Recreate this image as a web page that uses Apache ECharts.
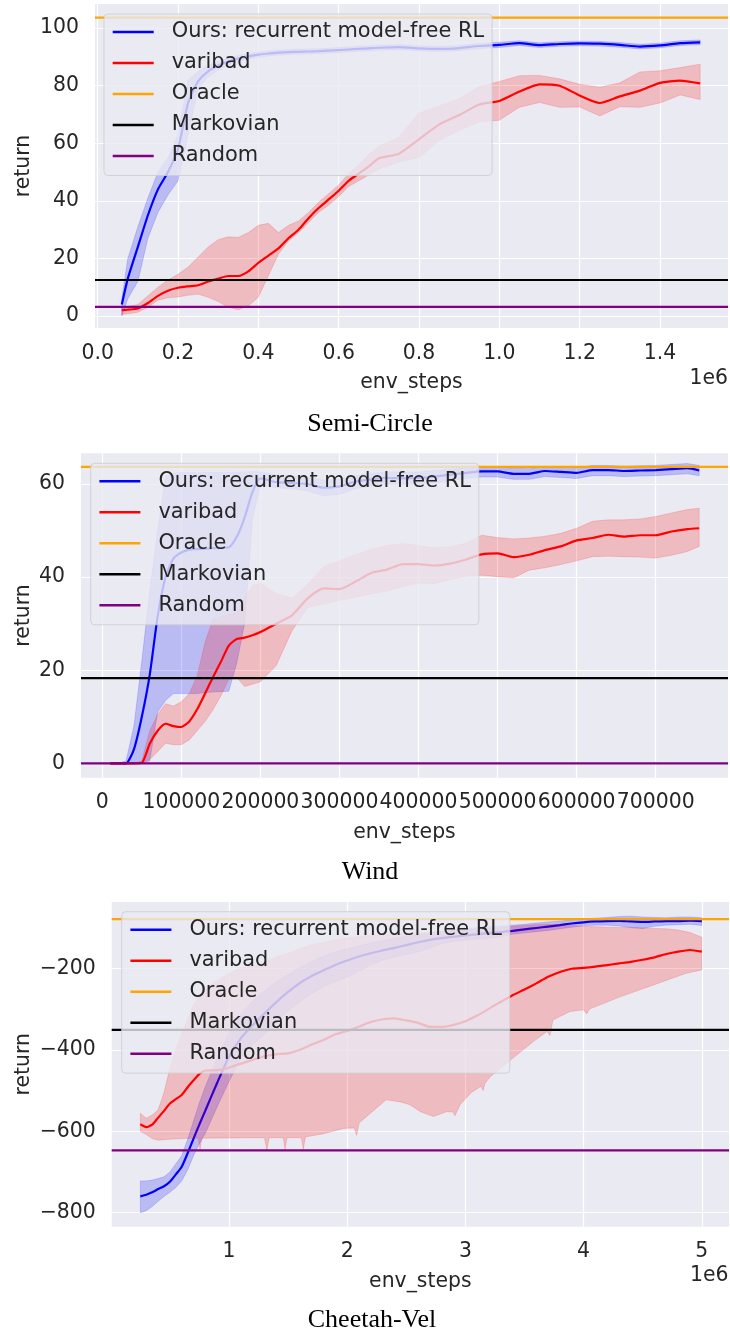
<!DOCTYPE html>
<html>
<head>
<meta charset="utf-8">
<script src="https://cdn.jsdelivr.net/npm/echarts@6/dist/echarts.min.js"></script>
<style>
  html, body { margin: 0; padding: 0; background: #ffffff; }
  #chart { width: 730px; height: 1335px; }
</style>
</head>
<body>
<div id="chart"></div>
<script>
// ---------- shared labels ----------
const seriesNames = ['Ours: recurrent model-free RL', 'varibad', 'Oracle', 'Markovian', 'Random'];
const panelTitles = ['Semi-Circle', 'Wind', 'Cheetah-Vel'];

// ---------- Semi-Circle ----------
const semiSteps = [60000, 75000, 100000, 125000, 150000, 175000, 200000, 225000, 250000, 275000,
  300000, 325000, 350000, 375000, 400000, 425000, 450000, 475000, 500000, 525000,
  550000, 575000, 600000, 625000, 650000, 675000, 700000, 750000, 800000, 850000,
  900000, 950000, 1000000, 1050000, 1100000, 1150000, 1200000, 1250000, 1300000, 1350000,
  1400000, 1450000, 1500000];
const semiOursMean = [4, 13, 24, 35, 44, 50, 58, 74, 81.5, 85,
  87, 88.4, 89.5, 90.2, 90.8, 91.2, 91.5, 91.7, 91.8, 91.9,
  92, 92.2, 92.4, 92.6, 92.8, 93, 93.2, 93.4, 93, 92.8,
  93.1, 93.8, 94.2, 94.8, 94.1, 94.5, 94.7, 94.6, 94.2, 93.6,
  94, 94.8, 95.1];
const semiOursHi = [6, 20, 31, 41, 50, 55, 63, 82, 85, 87,
  88.5, 89.6, 90.5, 91.1, 91.7, 92.1, 92.4, 92.6, 92.7, 92.8,
  92.9, 93.1, 93.3, 93.5, 93.7, 93.9, 94.1, 94.3, 93.9, 93.7,
  94, 94.7, 95.1, 95.6, 94.9, 95.3, 95.5, 95.4, 95, 94.4,
  94.8, 95.6, 95.9];
const semiOursLo = [0, 6, 12, 27, 36, 42, 47, 63, 79, 83,
  85.5, 87.2, 88.5, 89.3, 89.9, 90.3, 90.6, 90.8, 90.9, 91,
  91.1, 91.3, 91.5, 91.7, 91.9, 92.1, 92.3, 92.5, 92.1, 91.9,
  92.2, 92.9, 93.3, 94, 93.3, 93.7, 93.9, 93.8, 93.4, 92.8,
  93.2, 94, 94.3];
const semiVaribadMean = [2, 2.2, 2.6, 4.5, 7, 8.8, 9.8, 10.3, 10.7, 12,
  13, 13.9, 13.9, 15.5, 18.5, 21, 23.5, 27, 30, 34,
  37.5, 40.5, 43.5, 47, 49.5, 52, 54.8, 56.4, 61.4, 66.5,
  69.8, 73.5, 74.7, 78, 80.5, 80, 76.6, 74, 76.3, 78.3,
  81, 81.8, 80.8];
const semiVaribadHi = [3, 3.3, 4, 7, 10, 12.5, 14.5, 17, 20.5, 24,
  26.5, 27.5, 27.3, 29, 31.5, 32.2, 29, 31.5, 33, 36,
  39.5, 42.5, 45.5, 49.5, 52.5, 56, 59, 62, 70.5, 73,
  75.5, 79.7, 81.5, 83.5, 83.6, 82.4, 80.5, 79.5, 81, 84.8,
  85.2, 86.3, 87.5];
const semiVaribadLo = [0.5, 0.8, 1.3, 3, 5.5, 6.3, 6.6, 7.2, 7.6, 6.5,
  5, 3, 2.2, 3.5, 6.5, 14, 21.5, 26, 29, 32.5,
  36, 38.5, 41.5, 45, 47, 49, 51, 53.5, 55, 61,
  64.5, 67.5, 68, 72.5, 74.2, 72.5, 72.6, 69.5, 72.7, 72.5,
  74, 76.8, 75.2];
const semiBaselines = [103.7, 12.5, 3.2];   // Oracle, Markovian, Random
const semiXTicks = [0, 200000, 400000, 600000, 800000, 1000000, 1200000, 1400000];
const semiYTicks = [0, 20, 40, 60, 80, 100];

// ---------- Wind ----------
const windSteps = [10000, 20000, 30000, 40000, 50000, 60000, 70000, 80000, 90000, 100000,
  110000, 120000, 130000, 140000, 150000, 160000, 170000, 180000, 190000, 200000,
  220000, 240000, 260000, 280000, 300000, 320000, 340000, 360000, 380000, 400000,
  420000, 440000, 460000, 480000, 500000, 520000, 540000, 560000, 580000, 600000,
  620000, 640000, 660000, 680000, 700000, 720000, 740000, 755000];
const windOursMean = [0, 0, 0, 3, 10, 19, 31.5, 40, 44, 45.3,
  45.9, 46, 46.1, 46.2, 46.3, 46.4, 48.6, 52.8, 58.3, 61.2,
  60.4, 60.2, 60, 59.2, 59.5, 60.5, 61, 61.3, 61.2, 61.3,
  61.6, 62, 62.4, 62.7, 62.7, 62.2, 62.2, 62.8, 62.6, 62.4,
  63, 63, 62.8, 62.9, 63, 63.2, 63.4, 62.9];
const windOursHi = [0, 0, 0.5, 8, 22, 37, 50, 61.5, 62.3, 62.5,
  62.5, 62.5, 62.5, 62.5, 62.5, 62.5, 62.5, 62.6, 62.7, 62.6,
  62, 61.8, 61.5, 60.8, 61, 61.8, 62.3, 62.6, 62.5, 62.6,
  62.9, 63.2, 63.5, 63.7, 63.7, 63.4, 63.3, 63.8, 63.6, 63.5,
  64, 64, 63.8, 63.9, 64, 64.2, 64.4, 64];
const windOursLo = [0, 0, 0, 0, 0, 0.5, 11, 13.5, 15, 15,
  15, 15, 15.2, 15.3, 15.4, 15.5, 21.5, 30, 52.5, 59.8,
  59.2, 59, 58.5, 57.5, 57.8, 59, 59.6, 60, 59.9, 60,
  60.2, 60.7, 61.2, 61.5, 61.5, 61, 61, 61.6, 61.4, 61.2,
  61.8, 61.8, 61.6, 61.7, 61.8, 62, 62.2, 61.8];
const windVaribadMean = [0, 0, 0, 0, 0.1, 4.2, 7, 8.5, 8, 7.8,
  9, 11.6, 15, 18.5, 21.8, 25.3, 26.7, 27, 27.5, 28.2,
  30, 31.8, 35.5, 37.6, 37.4, 39, 40.9, 41.6, 42.8, 42.8,
  42.5, 42.9, 43.8, 44.9, 45.1, 44.3, 44.8, 45.8, 46.6, 47.9,
  48.4, 49.1, 48.7, 49, 49, 49.8, 50.3, 50.5];
const windVaribadHi = [0, 0, 0, 0, 0.5, 7, 10.5, 12.8, 12.3, 13.2,
  15, 18.8, 26, 31, 31.5, 31.9, 32.2, 35.5, 38.2, 38.7,
  36.5, 35.5, 38.5, 42.3, 43.5, 44.8, 46, 46.8, 47.2, 46.8,
  46.3, 46.5, 47.3, 49, 48.5, 48.2, 48.4, 48.8, 49.4, 50.5,
  52, 52.3, 52.3, 52.5, 53, 53.8, 54.5, 54.8];
const windVaribadLo = [0, 0, 0, 0, 0, 0.8, 2.5, 4.3, 4, 4,
  5, 7, 9, 11.5, 14.5, 18, 18.5, 16.5, 17, 17.5,
  21, 28.5, 33.5, 34.2, 35, 35.7, 36.4, 37, 38, 38.7,
  38.6, 39.5, 40.2, 40.4, 40.1, 39.8, 41.5, 42, 42.7, 43.5,
  44.4, 44.5, 44.4, 44.3, 44.1, 44.7, 45.5, 46.6];
const windBaselines = [63.7, 18.3, 0];
const windXTicks = [0, 100000, 200000, 300000, 400000, 500000, 600000, 700000];
const windYTicks = [0, 20, 40, 60];

// ---------- Cheetah-Vel ----------
const cheetahSteps = [250000, 300000, 350000, 400000, 450000, 500000, 550000, 600000, 650000, 700000,
  750000, 800000, 900000, 1000000, 1100000, 1200000, 1300000, 1400000, 1500000, 1600000,
  1700000, 1800000, 1900000, 2000000, 2100000, 2200000, 2300000, 2400000, 2500000, 2600000,
  2700000, 2800000, 2900000, 3000000, 3100000, 3200000, 3300000, 3400000, 3500000, 3600000,
  3700000, 3800000, 3900000, 4000000, 4100000, 4200000, 4300000, 4400000, 4500000, 4600000,
  4700000, 4800000, 4900000, 5000000];
const cheetahOursMean = [-760, -756, -750, -742, -735, -724, -706, -687, -654, -618,
  -583, -549, -481, -417, -372, -340, -311, -283, -258, -236,
  -219, -205, -192, -181, -171, -163, -156, -150, -143, -136,
  -130, -126, -122.5, -119.5, -116.5, -113.5, -111, -108, -104.5, -101,
  -97.5, -94, -90, -87, -85, -84, -83.5, -85, -86, -85,
  -84, -84, -83, -84];
const cheetahOursHi = [-722, -722, -720, -716, -712, -700, -680, -660, -620, -575,
  -530, -490, -420, -360, -313, -280, -255, -233, -215, -198,
  -183, -170, -160, -152, -145, -138, -132, -126, -121, -118,
  -113, -109, -106, -103, -100, -98, -96, -94, -92, -89,
  -86, -84, -81, -79, -77, -75, -73, -72, -74, -75,
  -76, -74, -74, -76];
const cheetahOursLo = [-800, -795, -785, -772, -760, -750, -738, -722, -695, -660,
  -630, -605, -540, -478, -420, -388, -362, -332, -305, -282,
  -262, -245, -233, -222, -208, -192, -180, -172, -166, -160,
  -150, -140, -134, -131, -128, -126, -122, -116, -113, -110,
  -107, -103, -99, -95, -94, -94, -96, -100, -102, -97,
  -94, -93, -92, -95];
const cheetahVaribadMean = [-583, -590, -584, -567, -550, -532, -521, -511, -492, -475,
  -459, -451, -450, -444, -434, -425, -416, -411, -409, -400,
  -387, -376, -362, -354, -343, -332, -325, -323, -328, -334,
  -344, -344, -339, -330, -316, -299, -282, -266, -252, -237,
  -221, -209, -201, -199, -196, -192, -188, -184, -179, -173,
  -165, -159, -155, -159];
const cheetahVaribadHi = [-556, -568, -560, -548, -505, -445, -400, -360, -325, -290,
  -265, -250, -230, -213, -199, -194, -185, -172, -163, -152,
  -142, -136, -130, -125, -122, -119, -117, -115, -114, -113,
  -112, -110, -108, -106, -104, -102, -100, -97, -95, -93,
  -92, -93, -95, -97, -98, -99, -100, -100, -101, -102,
  -103, -106, -112, -124];
// the lower edge of the varibad band has its own sample points (it has narrow dips)
const cheetahVaribadLoSteps = [250000, 300000, 350000, 400000, 500000, 600000, 740000, 755000, 770000, 1300000,
  1320000, 1340000, 1460000, 1474000, 1490000, 1612000, 1629000, 1646000, 1800000, 1970000,
  2060000, 2080000, 2100000, 2200000, 2330000, 2450000, 2530000, 2620000, 2730000, 2840000,
  2895000, 2912000, 2955000, 3050000, 3130000, 3150000, 3165000, 3210000, 3400000, 3575000,
  3690000, 3716000, 3740000, 3885000, 4000000, 4026000, 4050000, 4310000, 4590000, 4870000,
  5000000];
const cheetahVaribadLo = [-600, -608, -618, -622, -620, -618, -617, -646, -617, -616,
  -646, -616, -616, -646, -616, -616, -644, -614, -606, -593,
  -592, -610, -580, -555, -523, -528, -535, -552, -564, -552,
  -553, -562, -535, -505, -490, -500, -483, -466, -421, -380,
  -355, -365, -327, -306, -302, -312, -300, -270, -241, -212,
  -204];
const cheetahBaselines = [-79, -351, -647];
const cheetahXTicks = [1000000, 2000000, 3000000, 4000000, 5000000];
const cheetahYTicks = [-800, -600, -400, -200];

// ---------- styling ----------
const FONT = 'DejaVu Sans';
const TEXT = '#262626';
const FS = 20.4;
const LEGEND_FS = 20.9;
const lineColors = ['#0000ff', '#ff0000', '#ffa500', '#000000', '#800080'];
const bandColors = ['rgba(0,0,255,0.2)', 'rgba(255,0,0,0.2)'];

const panels = [
  {
    title: panelTitles[0], steps: semiSteps,
    ours: [semiOursMean, semiOursLo, semiOursHi],
    varibad: [semiVaribadMean, semiVaribadLo, semiVaribadHi], varibadLoSteps: semiSteps,
    baselines: semiBaselines, xTicks: semiXTicks, yTicks: semiYTicks,
    xFmt: v => (v / 1e6).toFixed(1), yFmt: v => String(v), offset: '1e6',
    grid: { left: 95, top: 4, width: 633, height: 324 },
    xRange: [-6720, 1569300], yRange: [-4.17, 108.4],
    legend: { left: 104, top: 14 }, yNameGap: 61, xLabelMargin: 16,
    titleAt: [370, 424], offsetAt: [728, 378.5]
  },
  {
    title: panelTitles[1], steps: windSteps,
    ours: [windOursMean, windOursLo, windOursHi],
    varibad: [windVaribadMean, windVaribadLo, windVaribadHi], varibadLoSteps: windSteps,
    baselines: windBaselines, xTicks: windXTicks, yTicks: windYTicks,
    xFmt: v => String(v), yFmt: v => String(v), offset: null,
    grid: { left: 81, top: 453.3, width: 647, height: 324.4 },
    xRange: [-26940, 791430], yRange: [-3.09, 66.6],
    legend: { left: 90.7, top: 463.3 }, yNameGap: 47, xLabelMargin: 15,
    titleAt: [370, 872], offsetAt: null
  },
  {
    title: panelTitles[2], steps: cheetahSteps,
    ours: [cheetahOursMean, cheetahOursLo, cheetahOursHi],
    varibad: [cheetahVaribadMean, cheetahVaribadLo, cheetahVaribadHi], varibadLoSteps: cheetahVaribadLoSteps,
    baselines: cheetahBaselines, xTicks: cheetahXTicks, yTicks: cheetahYTicks,
    xFmt: v => String(v / 1e6), yFmt: v => String(v).replace('-', '\u2212'), offset: '1e6',
    grid: { left: 111.7, top: 902, width: 617.3, height: 324.7 },
    xRange: [7600, 5230000], yRange: [-834.4, -37.2],
    legend: { left: 121.7, top: 911.7 }, yNameGap: 77.7, xLabelMargin: 15,
    titleAt: [372, 1320], offsetAt: [728.5, 1276]
  }
];

// shaded band between lower and upper curves, projected through the axes
function bandSeries(idx, color, upSteps, up, loSteps, lo, z) {
  return {
    type: 'custom', xAxisIndex: idx, yAxisIndex: idx, z: z, silent: true,
    data: upSteps.map((x, i) => [x, up[i]]),
    encode: { x: 0, y: 1 },
    renderItem: function (params, api) {
      if (params.dataIndex !== 0) return null;
      const pts = [];
      for (let i = 0; i < upSteps.length; i++) pts.push(api.coord([upSteps[i], up[i]]));
      for (let i = loSteps.length - 1; i >= 0; i--) pts.push(api.coord([loSteps[i], lo[i]]));
      return {
        type: 'polygon', shape: { points: pts },
        style: { fill: color, stroke: color, lineWidth: 0.8 }
      };
    }
  };
}

function meanSeries(idx, name, color, steps, vals, z) {
  return {
    type: 'line', name: name, xAxisIndex: idx, yAxisIndex: idx, z: z, silent: true,
    data: steps.map((x, i) => [x, vals[i]]),
    showSymbol: false, symbol: 'none', smooth: 0.2,
    lineStyle: { color: color, width: 2.2 }, itemStyle: { color: color }
  };
}

function baselineSeries(idx, name, color, range, val) {
  return {
    type: 'line', name: name, xAxisIndex: idx, yAxisIndex: idx, z: 6, silent: true,
    data: [[range[0], val], [range[1], val]],
    showSymbol: false, symbol: 'none',
    lineStyle: { color: color, width: 2.2 }, itemStyle: { color: color }
  };
}

const grids = [], xAxes = [], yAxes = [], series = [], legends = [], graphics = [];

panels.forEach((p, i) => {
  grids.push(Object.assign({
    show: true, backgroundColor: '#eaeaf2', borderWidth: 0, containLabel: false, outerBoundsMode: 'none'
  }, p.grid));

  xAxes.push({
    type: 'value', gridIndex: i, min: p.xRange[0], max: p.xRange[1],
    axisLine: { show: false }, axisTick: { show: false, customValues: p.xTicks },
    axisLabel: { customValues: p.xTicks, formatter: p.xFmt, margin: p.xLabelMargin,
      fontFamily: FONT, fontSize: FS, color: TEXT, hideOverlap: false },
    splitLine: { show: true, lineStyle: { color: '#ffffff', width: 1.2 } },
    name: 'env_steps', nameLocation: 'middle', nameGap: 45, nameMoveOverlap: false,
    nameTextStyle: { fontFamily: FONT, fontSize: FS, color: TEXT }
  });

  yAxes.push({
    type: 'value', gridIndex: i, min: p.yRange[0], max: p.yRange[1],
    axisLine: { show: false }, axisTick: { show: false, customValues: p.yTicks },
    axisLabel: { customValues: p.yTicks, formatter: p.yFmt, margin: 16,
      fontFamily: FONT, fontSize: FS, color: TEXT },
    splitLine: { show: true, lineStyle: { color: '#ffffff', width: 1.2 } },
    name: 'return', nameLocation: 'middle', nameGap: p.yNameGap, nameMoveOverlap: false,
    nameTextStyle: { fontFamily: FONT, fontSize: FS, color: TEXT }
  });

  series.push(bandSeries(i, bandColors[0], p.steps, p.ours[2], p.steps, p.ours[1], 2));
  series.push(meanSeries(i, seriesNames[0], lineColors[0], p.steps, p.ours[0], 3));
  series.push(bandSeries(i, bandColors[1], p.steps, p.varibad[2], p.varibadLoSteps, p.varibad[1], 4));
  series.push(meanSeries(i, seriesNames[1], lineColors[1], p.steps, p.varibad[0], 5));
  for (let k = 0; k < 3; k++) {
    series.push(baselineSeries(i, seriesNames[2 + k], lineColors[2 + k], p.xRange, p.baselines[k]));
  }

  legends.push({
    data: seriesNames, orient: 'vertical', left: p.legend.left, top: p.legend.top,
    icon: 'rect', itemWidth: 41, itemHeight: 2.4, itemGap: 9,
    padding: [7, 8, 8.5, 8.7],
    backgroundColor: 'rgba(234,234,242,0.8)', borderColor: 'rgba(204,204,204,0.8)',
    borderWidth: 1, borderRadius: 4, selectedMode: false, z: 10,
    textStyle: { fontFamily: FONT, fontSize: LEGEND_FS, color: TEXT, lineHeight: 22, padding: [0, 0, 0, 13] }
  });

  graphics.push({
    type: 'text', x: p.titleAt[0], y: p.titleAt[1], z: 20,
    style: { text: p.title, font: '26px "Liberation Serif"', fill: '#000000',
      align: 'center', verticalAlign: 'middle', textAlign: 'center', textVerticalAlign: 'middle' }
  });
  if (p.offset) {
    graphics.push({
      type: 'text', x: p.offsetAt[0], y: p.offsetAt[1], z: 20,
      style: { text: p.offset, font: FS + 'px "' + FONT + '"', fill: TEXT,
        align: 'right', verticalAlign: 'middle', textAlign: 'right', textVerticalAlign: 'middle' }
    });
  }
});

const chart = echarts.init(document.getElementById('chart'), null, { renderer: 'canvas', width: 730, height: 1335 });
chart.setOption({
  animation: false,
  backgroundColor: '#ffffff',
  grid: grids, xAxis: xAxes, yAxis: yAxes,
  legend: legends, series: series, graphic: graphics
});
</script>
</body>
</html>
